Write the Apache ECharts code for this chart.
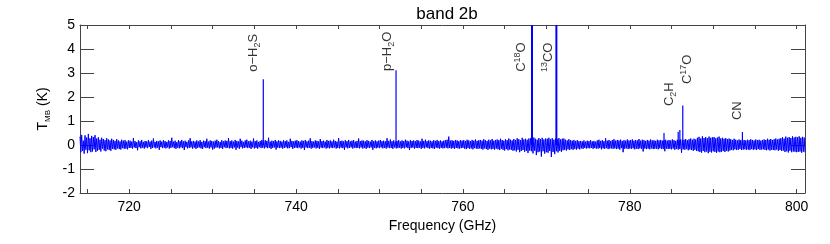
<!DOCTYPE html>
<html>
<head>
<meta charset="utf-8">
<script src="https://cdn.jsdelivr.net/npm/echarts@6/dist/echarts.min.js"></script>
<style>html,body{margin:0;padding:0;background:#fff}#c{width:830px;height:244px}</style>
</head>
<body>
<div id="c"></div>
<script>
// ---- data ----
const freqStart = 714.1;   // GHz, first sampled channel
const freqStep = 0.1;      // GHz per sampled channel
const noise = [
0.35,-0.3,0.42,-0.25,0.18,-0.36,0.4,-0.2,0.31,-0.34,0.46,-0.22,0.28,-0.3,0.38,-0.27,0.33,-0.18,0.41,-0.29,
0.27,-0.24,0.32,-0.2,0.22,-0.27,0.3,-0.15,0.25,-0.23,0.2,-0.26,0.28,-0.18,0.23,-0.21,0.19,-0.24,0.26,-0.16,
0.21,-0.18,0.17,-0.2,0.24,-0.14,0.19,-0.17,0.15,-0.19,0.22,-0.13,0.18,-0.16,0.2,-0.15,0.14,-0.18,0.19,-0.12,
0.18,-0.12,0.14,-0.15,0.29,-0.1,0.16,-0.13,0.12,-0.22,0.19,-0.09,0.15,-0.14,0.21,-0.11,0.13,-0.15,0.17,-0.1,
0.15,-0.13,0.2,-0.08,0.14,-0.16,0.18,-0.12,0.27,-0.1,0.13,-0.14,0.17,-0.11,0.15,-0.2,0.19,-0.09,0.14,-0.13,
0.2,-0.11,0.16,-0.14,0.13,-0.1,0.19,-0.15,0.17,-0.12,0.3,-0.09,0.14,-0.13,0.18,-0.16,0.12,-0.11,0.2,-0.14,
0.16,-0.1,0.21,-0.13,0.15,-0.21,0.18,-0.09,0.13,-0.14,0.19,-0.12,0.28,-0.1,0.15,-0.15,0.17,-0.11,0.14,-0.16,
0.19,-0.12,0.15,-0.1,0.2,-0.14,0.13,-0.16,0.18,-0.09,0.16,-0.13,0.26,-0.11,0.14,-0.15,0.19,-0.1,0.17,-0.19,
0.14,-0.15,0.18,-0.11,0.22,-0.1,0.16,-0.14,0.13,-0.12,0.2,-0.16,0.15,-0.09,0.19,-0.13,0.17,-0.11,0.29,-0.14,
0.16,-0.12,0.19,-0.15,0.14,-0.1,0.21,-0.2,0.17,-0.11,0.15,-0.16,0.26,-0.09,0.18,-0.14,0.13,-0.12,0.19,-0.1,
0.22,-0.13,0.15,-0.11,0.18,-0.16,0.14,-0.1,0.27,-0.14,0.16,-0.12,0.19,-0.15,0.13,-0.09,0.17,-0.13,0.21,-0.11,
0.15,-0.14,0.2,-0.1,0.17,-0.13,0.3,-0.11,0.14,-0.16,0.18,-0.12,0.16,-0.1,0.21,-0.19,0.15,-0.11,0.19,-0.13,
0.17,-0.11,0.14,-0.15,0.2,-0.12,0.16,-0.1,0.19,-0.14,0.13,-0.13,0.26,-0.09,0.17,-0.16,0.15,-0.12,0.18,-0.11,
0.2,-0.13,0.16,-0.1,0.14,-0.15,0.19,-0.12,0.17,-0.21,0.21,-0.1,0.15,-0.13,0.18,-0.11,0.28,-0.15,0.16,-0.12,
0.14,-0.1,0.19,-0.14,0.17,-0.12,0.15,-0.16,0.25,-0.11,0.16,-0.13,0.18,-0.1,0.14,-0.15,0.21,-0.12,0.17,-0.14,
0.19,-0.11,0.15,-0.13,0.22,-0.1,0.17,-0.15,0.14,-0.12,0.29,-0.14,0.16,-0.11,0.18,-0.13,0.15,-0.2,0.2,-0.1,
0.16,-0.14,0.21,-0.12,0.15,-0.1,0.18,-0.15,0.2,-0.11,0.14,-0.13,0.17,-0.12,0.27,-0.14,0.16,-0.1,0.19,-0.15,
0.18,-0.12,0.15,-0.16,0.2,-0.11,0.17,-0.13,0.14,-0.1,0.21,-0.2,0.16,-0.12,0.19,-0.14,0.15,-0.11,0.18,-0.13,
0.21,-0.1,0.16,-0.14,0.18,-0.12,0.15,-0.15,0.28,-0.11,0.17,-0.13,0.23,-0.12,0.16,-0.16,0.19,-0.1,0.14,-0.14,
0.17,-0.13,0.2,-0.11,0.15,-0.15,0.19,-0.12,0.16,-0.14,0.22,-0.1,0.18,-0.13,0.15,-0.21,0.2,-0.12,0.17,-0.11,
0.19,-0.15,0.16,-0.12,0.21,-0.13,0.18,-0.11,0.15,-0.16,0.26,-0.12,0.17,-0.14,0.22,-0.1,0.16,-0.13,0.19,-0.15,
0.18,-0.12,0.15,-0.14,0.2,-0.16,0.17,-0.11,0.21,-0.13,0.16,-0.15,0.19,-0.12,0.15,-0.14,0.18,-0.13,0.2,-0.11,
0.22,-0.14,0.35,-0.12,0.18,-0.15,0.2,-0.13,0.17,-0.16,0.21,-0.12,0.19,-0.14,0.16,-0.15,0.2,-0.13,0.18,-0.12,
0.2,-0.15,0.17,-0.17,0.22,-0.13,0.19,-0.16,0.16,-0.14,0.21,-0.18,0.18,-0.13,0.23,-0.15,0.17,-0.16,0.2,-0.14,
0.21,-0.16,0.18,-0.19,0.24,-0.14,0.2,-0.17,0.17,-0.2,0.22,-0.15,0.19,-0.18,0.25,-0.16,0.18,-0.19,0.21,-0.15,
0.23,-0.18,0.2,-0.21,0.26,-0.16,0.21,-0.2,0.18,-0.23,0.24,-0.17,0.2,-0.22,0.27,-0.19,0.22,-0.2,0.19,-0.24,
0.25,-0.22,0.21,-0.27,0.28,-0.2,0.24,-0.3,0.2,-0.25,0.3,-0.21,0.23,-0.28,0.26,-0.24,0.22,-0.33,0.27,-0.23,
0.28,-0.26,0.24,-0.35,0.31,-0.24,0.26,-0.42,0.22,-0.3,0.29,-0.27,0.25,-0.48,0.3,-0.26,0.23,-0.36,0.27,-0.3,
0.26,-0.32,0.3,-0.25,0.24,-0.5,0.28,-0.29,0.22,-0.38,0.27,-0.26,0.25,-0.31,0.29,-0.24,0.23,-0.28,0.26,-0.22,
0.27,-0.2,0.22,-0.23,0.19,-0.18,0.24,-0.21,0.2,-0.17,0.18,-0.2,0.21,-0.16,0.17,-0.19,0.2,-0.15,0.16,-0.18,
0.17,-0.14,0.15,-0.16,0.19,-0.12,0.14,-0.15,0.18,-0.13,0.16,-0.14,0.2,-0.12,0.15,-0.16,0.17,-0.13,0.14,-0.15,
0.19,-0.15,0.22,-0.13,0.17,-0.18,0.2,-0.14,0.16,-0.16,0.28,-0.13,0.18,-0.17,0.21,-0.15,0.17,-0.14,0.2,-0.16,
0.24,-0.14,0.18,-0.17,0.21,-0.15,0.19,-0.19,0.22,-0.13,0.17,-0.3,0.2,-0.16,0.18,-0.14,0.23,-0.17,0.19,-0.15,
0.2,-0.16,0.23,-0.14,0.18,-0.18,0.21,-0.15,0.19,-0.17,0.25,-0.14,0.18,-0.16,0.22,-0.27,0.2,-0.15,0.17,-0.17,
0.21,-0.15,0.18,-0.18,0.23,-0.14,0.19,-0.17,0.2,-0.16,0.17,-0.15,0.22,-0.18,0.19,-0.14,0.21,-0.16,0.18,-0.17,
0.2,-0.26,0.22,-0.15,0.18,-0.17,0.21,-0.16,0.19,-0.18,0.23,-0.15,0.2,-0.2,0.17,-0.16,0.22,-0.19,0.2,-0.17,
0.23,-0.32,0.19,-0.18,0.22,-0.2,0.25,-0.17,0.2,-0.22,0.24,-0.19,0.27,-0.21,0.22,-0.24,0.26,-0.2,0.23,-0.25,
0.3,-0.26,0.34,-0.29,0.27,-0.32,0.36,-0.25,0.29,-0.3,0.33,-0.27,0.28,-0.34,0.35,-0.28,0.3,-0.31,0.32,-0.26,
0.33,-0.29,0.28,-0.32,0.31,-0.27,0.35,-0.3,0.27,-0.28,0.3,-0.25,0.26,-0.29,0.29,-0.24,0.25,-0.27,0.27,-0.23,
0.24,-0.2,0.21,-0.22,0.26,-0.18,0.22,-0.21,0.19,-0.2,0.23,-0.17,0.2,-0.21,0.24,-0.19,0.21,-0.18,0.19,-0.2,
0.22,-0.19,0.2,-0.21,0.24,-0.17,0.21,-0.2,0.19,-0.18,0.23,-0.21,0.2,-0.17,0.22,-0.2,0.18,-0.19,0.21,-0.18,
0.23,-0.2,0.21,-0.22,0.26,-0.19,0.22,-0.23,0.25,-0.2,0.21,-0.21,0.24,-0.22,0.27,-0.19,0.23,-0.24,0.26,-0.21,
0.28,-0.25,0.32,-0.23,0.27,-0.29,0.35,-0.26,0.3,-0.31,0.33,-0.24,0.29,-0.3,0.36,-0.27,0.31,-0.28,0.34,-0.3,
0.32,-0.29,0.36,-0.27,0.3,-0.32,0.34,-0.28,0.31,-0.3
];
// emission lines (frequency GHz, peak K); the strong CO lines run off the top
const lineFreqs = [736.07, 751.98, 768.28, 771.2, 784.1, 785.8, 786.0, 786.35, 793.5];
const linePeaks = [2.74, 3.11, 9.0, 12.0, 0.5, 0.55, 0.62, 1.65, 0.54];
// line identification labels (centre frequency, bottom of text in K)
const labelTexts = [
  '{m|o\u2212H}{s|2}{m|S}',
  '{m|p\u2212H}{s|2}{m|O}',
  '{m|C}{u|18}{m|O}',
  '{u|13}{m|CO}',
  '{m|C}{s|2}{m|H}',
  '{m|C}{u|17}{m|O}',
  '{m|CN}'
];
const labelFreqs = [734.9, 751.0, 767.0, 770.2, 784.8, 786.9, 792.9];
const labelYs = [3.05, 3.08, 3.05, 3.04, 1.62, 2.54, 1.04];
const xLabelValues = [720, 740, 760, 780, 800];
const xTickValues = [715,720,725,730,735,740,745,750,755,760,765,770,775,780,785,790,795,800];
const yMin = -2, yMax = 5;

// ---- build ----
const spectrum = noise.map((v, i) => [freqStart + i * freqStep, v]);
const lines = lineFreqs.map((f, i) => [f, linePeaks[i]]);
const labels = labelFreqs.map((f, i) => ({ value: [f, labelYs[i]], text: labelTexts[i] }));

const axisColor = '#444';
const font = '"Liberation Sans", Arial, sans-serif';
const chart = echarts.init(document.getElementById('c'), null, { renderer: 'canvas' });
chart.setOption({
  animation: false,
  backgroundColor: '#fff',
  title: {
    text: 'band 2b', left: 442, textAlign: 'center', top: 1,
    textStyle: { fontFamily: font, fontSize: 17, fontWeight: 'normal', color: '#000' }
  },
  grid: { left: 80, right: 25, top: 25, bottom: 51 },
  xAxis: [{
    type: 'value', min: 714.1, max: 801.0, position: 'bottom',
    name: 'Frequency (GHz)', nameLocation: 'middle', nameGap: 23,
    nameTextStyle: { fontFamily: font, fontSize: 14, color: '#000' },
    axisLine: { show: true, onZero: false, lineStyle: { color: axisColor, width: 1 } },
    axisTick: { show: true, inside: true, length: 4, customValues: xTickValues, lineStyle: { color: axisColor } },
    axisLabel: { show: true, customValues: xLabelValues, margin: 7, fontFamily: font, fontSize: 14, color: '#000' },
    splitLine: { show: false }
  }, {
    type: 'value', min: 714.1, max: 801.0, position: 'top',
    axisLine: { show: true, onZero: false, lineStyle: { color: axisColor, width: 1 } },
    axisTick: { show: true, inside: true, length: 4, customValues: xTickValues, lineStyle: { color: axisColor } },
    axisLabel: { show: false }, splitLine: { show: false }
  }],
  yAxis: [{
    type: 'value', min: yMin, max: yMax, interval: 1, position: 'left',
    name: '{t|T}{s|MB}{t| (K)}', nameLocation: 'middle', nameGap: 28,
    nameTextStyle: {
      fontFamily: font, fontSize: 14, color: '#000',
      rich: {
        t: { fontFamily: font, fontSize: 14, color: '#000', lineHeight: 18 },
        s: { fontFamily: font, fontSize: 8, color: '#000', lineHeight: 8, verticalAlign: 'bottom' }
      }
    },
    axisLine: { show: true, onZero: false, lineStyle: { color: axisColor, width: 1 } },
    axisTick: { show: true, inside: true, length: 14, lineStyle: { color: axisColor } },
    axisLabel: { margin: 5, fontFamily: font, fontSize: 14, color: '#000' },
    splitLine: { show: false }
  }, {
    type: 'value', min: yMin, max: yMax, interval: 1, position: 'right',
    axisLine: { show: true, onZero: false, lineStyle: { color: axisColor, width: 1 } },
    axisTick: { show: true, inside: true, length: 14, lineStyle: { color: axisColor } },
    axisLabel: { show: false }, splitLine: { show: false }
  }],
  series: [{
    type: 'line', data: spectrum, xAxisIndex: 0, yAxisIndex: 0,
    showSymbol: false, symbol: 'none', sampling: null,
    lineStyle: { color: '#0000ff', width: 1 }, clip: true, z: 3
  }, {
    type: 'custom', data: lines, xAxisIndex: 0, yAxisIndex: 0, z: 4,
    itemStyle: { color: '#0000ff' },
    renderItem: function (params, api) {
      const f = api.value(0), pk = api.value(1);
      const p0 = api.coord([f, 0]);
      const p1 = api.coord([f, Math.min(pk, yMax)]);
      const w = pk > yMax ? 2 : 1.2;
      return { type: 'line', shape: { x1: p0[0], y1: p0[1], x2: p0[0], y2: p1[1] },
               style: { stroke: '#0000ff', lineWidth: w, fill: null } };
    }
  }, {
    type: 'scatter', xAxisIndex: 0, yAxisIndex: 0, symbolSize: 0, z: 5,
    data: labels,
    label: {
      show: true, position: [0, 0], rotate: 90, align: 'left', verticalAlign: 'middle',
      formatter: function (p) { return p.data.text; },
      rich: {
        m: { fontFamily: font, fontSize: 13, color: '#000', lineHeight: 17 },
        s: { fontFamily: font, fontSize: 9, color: '#000', lineHeight: 9, verticalAlign: 'bottom' },
        u: { fontFamily: font, fontSize: 9, color: '#000', lineHeight: 9, verticalAlign: 'top' }
      }
    },
    emphasis: { disabled: true }
  }]
});
</script>
</body>
</html>
